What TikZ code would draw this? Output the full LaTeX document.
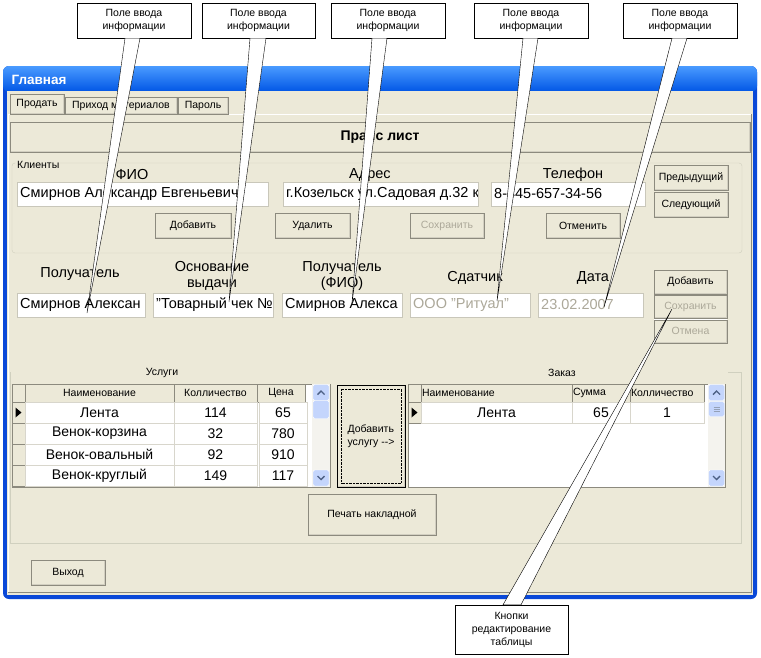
\documentclass[tikz,border=0pt]{standalone}
\usepackage{fontspec}
\setmainfont{Liberation Sans}
\usetikzlibrary{positioning}
\definecolor{xpface}{HTML}{ECE9D8}
\definecolor{xpframe}{HTML}{0A48D8}
\definecolor{xptitle}{HTML}{0055E5}
\definecolor{xptitlehi}{HTML}{4A9BFF}
\definecolor{xpshadow}{HTML}{8C8A7E}
\definecolor{xpshade}{HTML}{D2CFC1}
\definecolor{xpgray}{HTML}{ACA899}
\definecolor{xpgroup}{HTML}{D0D0BF}
\definecolor{xpedge}{HTML}{C9C7BA}
\definecolor{xpline}{HTML}{D8D6CC}
\definecolor{xpscroll}{HTML}{C4D5FC}
\definecolor{xptrack}{HTML}{F4F3EE}
\definecolor{xparrow}{HTML}{4D6185}
\tikzset{x=1pt, y=-1pt, % one unit is one pixel of the screenshot, y runs downwards
small/.style={font=\fontsize{10.5}{13}\selectfont},
big/.style={font=\fontsize{14.5}{15.5}\selectfont},
wh/.style 2 args={minimum width=#1pt, minimum height=#2pt},
button/.style={ % raised XP button
  fill=xpface, draw=xpshadow, small, inner sep=0pt,
  path picture={
    \draw[white, line width=2pt] (path picture bounding box.south west) -- (path picture bounding box.north west) -- (path picture bounding box.north east);
    \draw[xpshade, line width=2pt] (path picture bounding box.north east) -- (path picture bounding box.south east) -- (path picture bounding box.south west);}},
greyed/.style={text=xpgray}, % disabled control
editbox/.style 2 args={ % sunken field, its text clipped to the field
  fill=white, draw=xpedge, inner sep=0pt, minimum height=24pt,
  path picture={
    \draw[xpshadow, line width=2pt] (path picture bounding box.south west) -- (path picture bounding box.north west) -- (path picture bounding box.north east);
    \node[anchor=west, minimum width=0pt, minimum height=0pt, inner xsep=3pt, inner ysep=0pt, text=#2, font=\fontsize{14.5}{16}\selectfont] at (path picture bounding box.west) {#1};}},
hdr/.style={fill=xpface, draw=xpshadow, small, inner sep=0pt},
cell/.style={fill=white, draw=xpline, font=\fontsize{14}{15}\selectfont, inner sep=0pt},
scrollbtn/.style={fill=xpscroll, draw=white, rounded corners=1.5pt, wh={16}{16}},
chev/.style={draw=xparrow, line width=1.4pt},
callout/.style={draw, fill=white, align=center, small, inner sep=0pt},
wedge/.style={draw, fill=white, thin}}

\begin{document}
\begin{tikzpicture}
\useasboundingbox (0,0) rectangle (761,657);
% window
\fill[xpframe, rounded corners=6pt] (3,66) rectangle (757,599);
\shade[top color=xptitlehi, bottom color=xptitle, rounded corners=6pt] (3,66) rectangle (757,92);
\fill[xpface] (7,91) rectangle (753,595);
\node[anchor=west, text=white, font=\bfseries\fontsize{13.5}{14}\selectfont] (title) at (8,80) {Главная};
% tabs and tab page
\draw[white] (8,592) -- (8,114) -- (751,114);
\draw[xpshadow] (751,114) -- (751,592) -- (8,592);
\node[button, wh={54}{20}] (tab1) at (37,104) {Продать};
\node[button, wh={112}{17}] (tab2) at (121,105.5) {Приход материалов};
\node[button, wh={50}{17}] (tab3) at (203,105.5) {Пароль};
\node[button, wh={740}{30}, font=\bfseries\fontsize{14}{16}\selectfont] (price) at (380,137) {Прайс лист};

% clients group
\draw[xpgroup, rounded corners=3pt] (12,163) rectangle (742,253);
\node[small, fill=xpface, anchor=west, inner sep=1pt] (clients) at (16,165) {Клиенты};
\node[big] (lfio) at (132,175) {ФИО};
\node[big] (ladr) at (370,175) {Адрес};
\node[big] (ltel) at (573,175) {Телефон};
\node[editbox={Смирнов Александр Евгеньевич}{black}, minimum width=251pt] (efio) at (142.5,194) {};
\node[editbox={г.Козельск ул.Садовая д.32 к}{black}, minimum width=195pt] (eadr) at (380.5,194) {};
\node[editbox={8-445-657-34-56}{black}, minimum width=154pt] (etel) at (568,194) {};
\node[button, wh={74}{25}] (prev) at (691,177.5) {Предыдущий};
\node[button, wh={74}{25}, below=2pt of prev] (next) {Следующий};
\node[button, wh={76}{25}] (cadd) at (193,225.5) {Добавить};
\node[button, wh={75}{25}] (cdel) at (312.5,225.5) {Удалить};
\node[button, greyed, wh={74}{25}] (csave) at (447,225.5) {Сохранить};
\node[button, wh={74}{25}] (ccancel) at (583,225.5) {Отменить};

% invoice fields
\node[big] (lrec) at (80,274) {Получатель};
\node[big, align=center] (lbase) at (212,276) {Основание\\выдачи};
\node[big, align=center] (lrecfio) at (342,276) {Получатель\\(ФИО)};
\node[big] (lsd) at (475,278) {Сдатчик};
\node[big] (ldate) at (593,278) {Дата};
\node[editbox={Смирнов Алексан}{black}, minimum width=128pt] (erec) at (81,305) {};
\node[editbox={"Товарный чек №}{black}, minimum width=120pt] (ebase) at (213,305) {};
\node[editbox={Смирнов Алекса}{black}, minimum width=120pt] (erecfio) at (342,305) {};
\node[editbox={ООО "Ритуал"}{xpgray}, minimum width=120pt] (esd) at (470,305) {};
\node[editbox={23.02.2007}{xpgray}, minimum width=105pt] (edate) at (590.5,305) {};
\node[button, wh={73}{24}] (tadd) at (690.5,282) {Добавить};
\node[button, greyed, wh={73}{23}, below=1pt of tadd] (tsave) {Сохранить};
\node[button, greyed, wh={73}{23}, below=1pt of tsave] (tundo) {Отмена};

% tables group
\draw[xpgroup] (728,372) -- (741,372) -- (741,543) -- (10,543) -- (10,372);
\node[small] (lserv) at (162,373) {Услуги};
\node[small] (lorder) at (562,373) {Заказ};

% services grid
\draw[xpshadow, fill=white] (12,384) rectangle (330,487);
\node[hdr, wh={13}{18}] (g1c) at (18.5,393) {};
\foreach \a/\b/\h in {25/174/Наименование, 174/257/Колличество, 257/305/Цена}
  \node[hdr, minimum width={(\b-\a)*1pt}, minimum height=18pt] (g1h\a) at ({(\a+\b)/2},393) {\h};
\foreach \n/\q/\p [count=\i] in {Лента/114/65, Венок-корзина/32/780, Венок-овальный/92/910, Венок-круглый/149/117} {
  \pgfmathsetmacro\ry{391.5+21*\i}
  \node[hdr, wh={13}{21}] (g1i\i) at (18.5,\ry) {};
  \node[cell, wh={149}{21}] (g1n\i) at (99.5,\ry) {\n};
  \node[cell, wh={83}{21}] (g1q\i) at (215.5,\ry) {\q};
  \node[cell, wh={48}{21}] (g1p\i) at (283,\ry) {\p};
}
\fill ([shift={(-3,-5)}]g1i1.center) -- ++(6,5) -- ++(-6,5) -- cycle;
\fill[xptrack] (312,384) rectangle (330,487);
\node[scrollbtn] (g1up) at (321,392.5) {};
\node[scrollbtn, minimum height=18pt] (g1th) at (321,409.5) {};
\node[scrollbtn] (g1dn) at (321,478) {};
\draw[chev] ([shift={(-3.5,2)}]g1up.center) -- ++(3.5,-3.5) -- ++(3.5,3.5);
\draw[chev] ([shift={(-3.5,-2)}]g1dn.center) -- ++(3.5,3.5) -- ++(3.5,-3.5);

% add to order
\node[button, draw=black, wh={68}{102}, align=left] (addsrv) at (371,436) {Добавить\\услугу -{}->};
\draw[densely dotted] ([shift={(4,4)}]addsrv.north west) rectangle ([shift={(-4,-4)}]addsrv.south east);

% order grid
\draw[xpshadow, fill=white] (408,384) rectangle (725,487);
\node[hdr, wh={13}{18}] (g2c) at (414.5,393) {};
\foreach \a/\b/\h in {421/572/Наименование, 572/630/Сумма, 630/704/Колличество} {
  \node[hdr, minimum width={(\b-\a)*1pt}, minimum height=18pt] (g2h\a) at ({(\a+\b)/2},393) {};
  \node[small, anchor=west, inner sep=1pt] (g2t\a) at (g2h\a.west) {\h};
}
\node[hdr, wh={13}{21}] (g2i1) at (414.5,412.5) {};
\node[cell, wh={151}{21}] (g2n1) at (496.5,412.5) {Лента};
\node[cell, wh={58}{21}] (g2s1) at (601,412.5) {\hfill 65};
\node[cell, wh={74}{21}] (g2q1) at (667,412.5) {1};
\fill ([shift={(-3,-5)}]g2i1.center) -- ++(6,5) -- ++(-6,5) -- cycle;
\fill[xptrack] (708,384) rectangle (725,487);
\node[scrollbtn] (g2up) at (716.5,392.5) {};
\node[scrollbtn, minimum height=15pt] (g2th) at (716.5,409) {};
\node[scrollbtn] (g2dn) at (716.5,478) {};
\draw[chev] ([shift={(-3.5,2)}]g2up.center) -- ++(3.5,-3.5) -- ++(3.5,3.5);
\draw[chev] ([shift={(-3.5,-2)}]g2dn.center) -- ++(3.5,3.5) -- ++(3.5,-3.5);
\foreach \d in {-2,0,2}
  \draw[xparrow!60] ([shift={(-3,\d)}]g2th.center) -- ++(6,0);

\node[button, wh={128}{41}] (print) at (372,514.5) {Печать накладной};
\node[button, wh={74}{25}] (exit) at (68,572.5) {Выход};

% callouts
\node[callout, wh={114}{35}] (c1) at (134,20.5) {Поле ввода\\информации};
\node[callout, wh={113}{35}] (c2) at (258.5,20.5) {Поле ввода\\информации};
\node[callout, wh={114}{35}] (c3) at (388,20.5) {Поле ввода\\информации};
\node[callout, wh={114}{35}] (c4) at (531,20.5) {Поле ввода\\информации};
\node[callout, wh={114}{35}] (c5) at (680,20.5) {Поле ввода\\информации};
\node[callout, wh={113}{49}] (cb) at (511.5,629.5) {Кнопки\\редактирование\\таблицы};
\coordinate (t1) at (87,313);
\coordinate (t2) at (229,302);
\coordinate (t3) at (352,303);
\coordinate (t4) at (497,301);
\coordinate (t5) at (604,307);
\coordinate (t6) at (672,309);
\draw[wedge] ([xshift=-9pt]c1.south) -- (t1) -- ([xshift=6pt]c1.south) -- cycle;
\draw[wedge] ([xshift=-8.5pt]c2.south) -- (t2) -- ([xshift=7.5pt]c2.south) -- cycle;
\draw[wedge] ([xshift=-16pt]c3.south) -- (t3) -- ([xshift=-1pt]c3.south) -- cycle;
\draw[wedge] ([xshift=-8pt]c4.south) -- (t4) -- ([xshift=7pt]c4.south) -- cycle;
\draw[wedge] ([xshift=-8pt]c5.south) -- (t5) -- ([xshift=7pt]c5.south) -- cycle;
\draw[wedge] ([xshift=-8.5pt]cb.north) -- (t6) -- ([xshift=9.5pt]cb.north) -- cycle;
\end{tikzpicture}
\end{document}
